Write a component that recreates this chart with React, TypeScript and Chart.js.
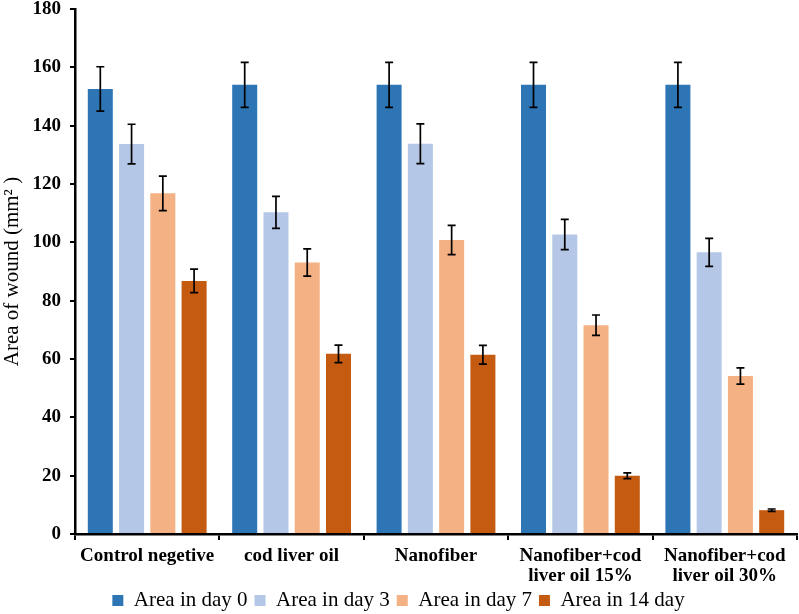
import React, { useEffect, useRef } from "react";
import { Chart, registerables } from "chart.js";

Chart.register(...registerables);

const categories: string[][] = [
  ["Control negetive"],
  ["cod liver oil"],
  ["Nanofiber"],
  ["Nanofiber+cod", "liver oil 15%"],
  ["Nanofiber+cod", "liver oil 30%"],
];

const seriesNames = ["Area in day 0", "Area in day 3", "Area in day 7", "Area in 14 day"];
const seriesColors = ["#2E75B6", "#B4C7E7", "#F4B183", "#C55A11"];

const day0 = [152.6, 154.0, 154.0, 154.0, 154.0];
const day3 = [133.7, 110.3, 133.8, 102.7, 96.6];
const day7 = [116.8, 93.1, 100.8, 71.6, 54.2];
const day14 = [86.8, 61.8, 61.5, 20.0, 8.2];

const err0 = [7.6, 7.7, 7.7, 7.7, 7.7];
const err3 = [6.8, 5.5, 6.8, 5.2, 4.8];
const err7 = [5.9, 4.7, 5.0, 3.5, 2.8];
const err14 = [4.0, 3.0, 3.2, 1.0, 0.4];

const yTicks = [0, 20, 40, 60, 80, 100, 120, 140, 160, 180];

const seriesValues = [day0, day3, day7, day14];
const seriesErrors = [err0, err3, err7, err14];

const serif = "'Liberation Serif', 'Times New Roman', serif";

const errorBarPlugin = {
  id: "errorBars",
  afterDatasetsDraw(chart: any) {
    const ctx = chart.ctx;
    const yScale = chart.scales.y;
    ctx.save();
    ctx.strokeStyle = "#000";
    ctx.lineWidth = 1.7;
    chart.data.datasets.forEach((ds: any, di: number) => {
      const meta = chart.getDatasetMeta(di);
      const errs = seriesErrors[di];
      meta.data.forEach((el: any, i: number) => {
        const v = ds.data[i];
        const e = errs[i];
        const x = el.x;
        const yTop = yScale.getPixelForValue(v + e);
        const yBot = yScale.getPixelForValue(v - e);
        const cap = 4;
        ctx.beginPath();
        ctx.moveTo(x, yTop);
        ctx.lineTo(x, yBot);
        ctx.moveTo(x - cap, yTop);
        ctx.lineTo(x + cap, yTop);
        ctx.moveTo(x - cap, yBot);
        ctx.lineTo(x + cap, yBot);
        ctx.stroke();
      });
    });
    ctx.restore();
  },
};

const CANVAS_H = 621;

export default function App() {
  const ref = useRef<HTMLCanvasElement | null>(null);
  useEffect(() => {
    if (!ref.current) return;
    const chart = new Chart(ref.current, {
      type: "bar",
      data: {
        labels: categories,
        datasets: seriesNames.map((name, i) => ({
          label: name,
          data: seriesValues[i],
          backgroundColor: seriesColors[i],
          borderWidth: 0,
          barPercentage: 0.8,
          categoryPercentage: 0.866,
        })),
      },
      options: {
        animation: false,
        responsive: false,
        maintainAspectRatio: false,
        layout: { padding: { top: 0, right: 2, left: 0, bottom: 0 } },
        plugins: {
          tooltip: { enabled: false },
          legend: {
            position: "bottom",
            labels: {
              boxWidth: 11,
              boxHeight: 11,
              padding: 7,
              color: "#000",
              font: { family: serif, size: 21 },
            },
          },
        },
        scales: {
          x: {
            afterFit(scale: any) {
              scale.height = scale.height - 9;
            },
            grid: {
              display: true,
              offset: true,
              drawOnChartArea: false,
              drawTicks: true,
              tickLength: 6,
              color: "#000",
              lineWidth: 2,
            },
            border: { display: true, color: "#000", width: 2.5 },
            ticks: {
              color: "#000",
              padding: 6,
              maxRotation: 0,
              autoSkip: false,
              font: { family: serif, size: 19, weight: "bold", lineHeight: 1.05 },
            },
          },
          y: {
            min: 0,
            max: 180,
            afterBuildTicks(scale: any) {
              scale.ticks = yTicks.map((v) => ({ value: v }));
            },
            afterFit(scale: any) {
              scale.width = 75;
              scale.paddingTop = 9;
            },
            grid: {
              display: true,
              drawOnChartArea: false,
              drawTicks: true,
              tickLength: 5,
              color: "#000",
              lineWidth: 2,
            },
            border: { display: true, color: "#000", width: 2.5 },
            title: {
              display: true,
              text: "Area of wound (mm² )",
              color: "#000",
              font: { family: serif, size: 21 },
              padding: { top: 0, bottom: 2 },
            },
            ticks: {
              color: "#000",
              padding: 9,
              font: { family: serif, size: 19, weight: "bold", lineHeight: 0.95 },
            },
          },
        },
      },
      plugins: [errorBarPlugin],
    });
    return () => chart.destroy();
  }, []);
  return (
    <div style={{ position: "fixed", left: 0, top: 0, width: 799, height: 614, overflow: "hidden", background: "#fff" }}>
      <canvas ref={ref} width={799} height={CANVAS_H} style={{ width: 799, height: CANVAS_H, display: "block" }} />
    </div>
  );
}
